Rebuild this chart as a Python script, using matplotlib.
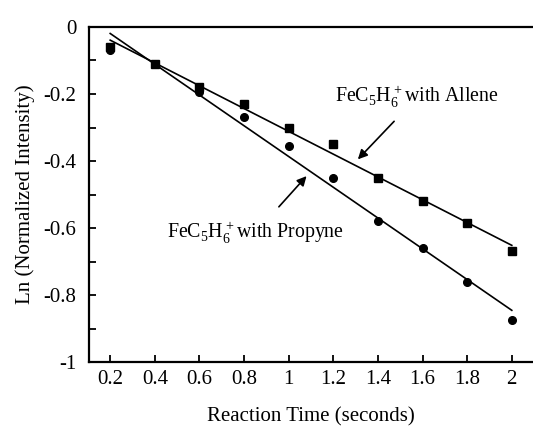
import numpy as np
import matplotlib
matplotlib.use('Agg')
import matplotlib.pyplot as plt

plt.rcParams['font.family'] = ['Liberation Serif', 'DejaVu Serif']
plt.rcParams['axes.unicode_minus'] = False
plt.rcParams['mathtext.fontset'] = 'custom'
plt.rcParams['mathtext.rm'] = 'Liberation Serif'

# reaction time (s)
time = [0.2, 0.4, 0.6, 0.8, 1.0, 1.2, 1.4, 1.6, 1.8, 2.0]
# ln(normalized intensity)
allene = [-0.06, -0.11, -0.18, -0.23, -0.30, -0.35, -0.45, -0.52, -0.585, -0.67]
propyne = [-0.07, -0.11, -0.195, -0.27, -0.355, -0.45, -0.58, -0.66, -0.76, -0.875]

xticks = [0.2, 0.4, 0.6, 0.8, 1.0, 1.2, 1.4, 1.6, 1.8, 2.0]
xticklabels = ['0.2', '0.4', '0.6', '0.8', '1', '1.2', '1.4', '1.6', '1.8', '2']
yticks = [0, -0.2, -0.4, -0.6, -0.8, -1.0]
yticklabels = ['0', '-0.2', '-0.4', '-0.6', '-0.8', '-1']

fig = plt.figure(figsize=(5.33, 4.28), dpi=100)
ax = fig.add_axes([0.167, 0.154, 0.833, 0.783])

t = np.array(time)
for y, mk in [(allene, 's'), (propyne, 'o')]:
    ax.plot(time, y, linestyle='none', marker=mk, color='black', markersize=5.5)
    p = np.polyfit(t, y, 1)
    ax.plot(t, np.polyval(p, t), color='black', linewidth=1.2)

ax.set_xlim(0.105, 2.095)
ax.set_ylim(-1.0, 0.0)
ax.set_xticks(xticks)
ax.set_xticklabels(xticklabels)
ax.set_yticks(yticks)
ax.set_yticklabels(yticklabels)
ax.set_yticks(np.arange(-0.9, 0, 0.2), minor=True)
ax.tick_params(axis='both', which='both', direction='in', labelsize=15, width=1.3)
ax.tick_params(axis='y', which='major', length=5, pad=9)
ax.tick_params(axis='y', which='minor', length=5)
ax.tick_params(axis='x', which='major', length=5, pad=6)

for s in ['left', 'bottom', 'top']:
    ax.spines[s].set_linewidth(1.6)
ax.spines['right'].set_visible(False)

ax.set_xlabel('Reaction Time (seconds)', fontsize=15, labelpad=13)
ax.set_ylabel('Ln (Normalized Intensity)', fontsize=15, labelpad=6)

ax.annotate('FeC$_5$H$_6^+$with Allene', xy=(1.31, -0.395), xytext=(1.575, -0.21),
            fontsize=14.3, ha='center', va='center',
            arrowprops=dict(arrowstyle='-|>', color='black', lw=1.2, mutation_scale=14,
                            shrinkA=8, shrinkB=0))
ax.annotate('FeC$_5$H$_6^+$with Propyne', xy=(1.08, -0.445), xytext=(0.85, -0.615),
            fontsize=14.3, ha='center', va='center',
            arrowprops=dict(arrowstyle='-|>', color='black', lw=1.2, mutation_scale=14,
                            shrinkA=10, shrinkB=0))

fig.savefig('out.png', dpi=100)
